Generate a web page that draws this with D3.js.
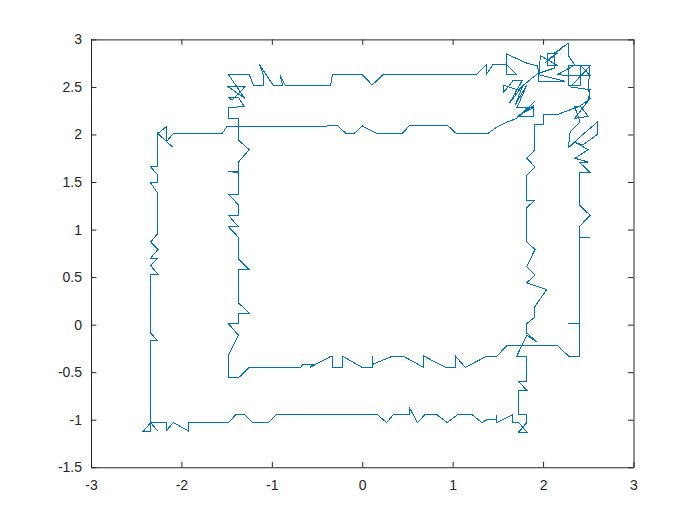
<!DOCTYPE html>
<html>
<head>
<meta charset="utf-8">
<script src="https://cdn.jsdelivr.net/npm/d3@7"></script>
<style>
  body { margin: 0; background: #fff; }
  .tick text { font-family: "Liberation Sans", Arial, sans-serif; font-size: 14px; fill: #262626; }
</style>
</head>
<body>
<script>
// path, in data units
const xs = [2.24, 2.02, 2.15, 2.05, 2.05, 2.15, 1.97, 1.95, 2.08, 2.24, 1.95, 1.94, 1.82, 1.59, 1.59, 1.71, 1.59, 1.45, 1.37, 1.37,
  1.26, 0.23, 0.11, 0.00, -0.33, -0.35, -0.85, -0.91, -0.88, -0.98, -1.14, -1.09, -1.09, -1.20, -1.25, -1.48, -1.30, -1.48, -1.30, -1.44,
  -1.48, -1.37, -1.30, -1.37, -1.48, -1.48, -1.37, -1.37, -1.25, -1.37, -1.37, -1.48, -1.37, -1.37, -1.48, -1.37, -1.37, -1.48, -1.37, -1.48,
  -1.37, -1.37, -1.25, -1.37, -1.37, -1.25, -1.37, -1.37, -1.48, -1.37, -1.48, -1.48, -1.37, -1.25, -0.68, -0.66, -0.54, -0.58, -0.36, -0.33,
  -0.33, -0.22, -0.22, 0.00, 0.11, 0.11, 0.11, 0.34, 0.45, 0.68, 0.68, 0.92, 1.03, 1.03, 1.14, 1.38, 1.49, 1.60, 2.16, 2.28,
  2.40, 2.40, 2.28, 2.40, 2.40, 2.52, 2.40, 2.40, 2.52, 2.40, 2.40, 2.52, 2.40, 2.50, 2.35, 2.50, 2.35, 2.44, 2.60, 2.60,
  2.44, 2.28, 2.30, 2.41, 2.35, 2.41, 2.50, 2.35, 2.52, 2.50, 2.52, 2.28, 2.28, 2.41, 2.41, 2.52, 2.28, 2.16, 2.35, 2.28,
  2.28, 2.13, 2.13, 1.94, 1.72, 1.56, 1.56, 1.63, 1.67, 1.77, 1.63, 1.78, 1.69, 1.82, 1.71, 1.89, 1.71, 1.89, 1.89, 1.78,
  1.91, 1.71, 1.60, 1.49, 1.39, 1.04, 0.95, 0.52, 0.44, 0.16, 0.00, -0.09, -0.18, -0.27, -1.50, -1.55, -2.09, -2.17, -2.17, -2.26,
  -2.10, -2.26, -2.26, -2.34, -2.26, -2.26, -2.34, -2.26, -2.26, -2.34, -2.26, -2.34, -2.26, -2.34, -2.26, -2.34, -2.34, -2.26, -2.34, -2.34,
  -2.42, -2.34, -2.26, -2.34, -2.17, -2.17, -2.09, -1.92, -1.92, -1.48, -1.40, -1.30, -1.21, -1.04, -0.95, 0.17, 0.27, 0.34, 0.52, 0.52,
  0.61, 0.69, 0.83, 0.94, 1.05, 1.22, 1.32, 1.38, 1.49, 1.49, 1.49, 1.66, 1.66, 1.73, 1.82, 1.73, 1.82, 1.82, 1.73, 1.73,
  1.82, 1.73, 1.82, 1.82, 1.71, 1.82, 1.93, 1.82, 1.82, 1.91, 1.91, 2.04, 1.91, 1.82, 1.91, 1.82, 1.91, 1.82, 1.82, 1.91,
  1.82, 1.82, 1.91, 1.82, 1.91, 1.91, 2.00, 2.00, 2.16, 2.30, 2.39, 2.50, 2.52, 2.30, 2.52];
const ys = [2.94, 2.75, 2.85, 2.85, 2.73, 2.73, 2.83, 2.56, 2.56, 2.56, 2.63, 2.72, 2.75, 2.85, 2.63, 2.63, 2.74, 2.74, 2.63, 2.73,
  2.63, 2.63, 2.52, 2.63, 2.63, 2.51, 2.51, 2.63, 2.51, 2.51, 2.74, 2.62, 2.51, 2.51, 2.63, 2.63, 2.38, 2.50, 2.50, 2.36,
  2.39, 2.39, 2.29, 2.29, 2.28, 2.17, 2.17, 1.94, 1.84, 1.71, 1.61, 1.61, 1.60, 1.37, 1.37, 1.26, 1.15, 1.15, 1.03, 1.03,
  0.92, 0.69, 0.58, 0.58, 0.23, 0.12, 0.12, 0.01, 0.01, -0.11, -0.32, -0.56, -0.56, -0.45, -0.45, -0.42, -0.42, -0.45, -0.34, -0.34,
  -0.45, -0.45, -0.33, -0.45, -0.45, -0.33, -0.42, -0.33, -0.33, -0.45, -0.33, -0.45, -0.45, -0.33, -0.45, -0.33, -0.33, -0.22, -0.22, -0.33,
  -0.33, 0.01, 0.01, 0.01, 0.92, 0.92, 0.92, 1.03, 1.15, 1.26, 1.60, 1.60, 1.71, 1.71, 1.75, 1.84, 1.92, 1.89, 2.00, 2.13,
  2.00, 1.86, 2.03, 2.13, 2.29, 2.30, 2.19, 2.17, 2.38, 2.49, 2.73, 2.73, 2.51, 2.51, 2.73, 2.62, 2.62, 2.63, 2.73, 2.83,
  2.96, 2.86, 2.70, 2.64, 2.47, 2.52, 2.44, 2.52, 2.57, 2.57, 2.33, 2.52, 2.31, 2.52, 2.28, 2.28, 2.19, 2.19, 2.30, 2.23,
  2.35, 2.17, 2.13, 2.08, 2.01, 2.01, 2.09, 2.09, 2.01, 2.01, 2.09, 2.01, 2.01, 2.09, 2.08, 2.01, 2.01, 1.92, 2.08, 2.01,
  1.87, 2.01, 1.66, 1.66, 1.57, 1.49, 1.49, 1.38, 0.96, 0.87, 0.79, 0.70, 0.70, 0.62, 0.53, 0.53, -0.09, -0.17, -0.17, -1.12,
  -1.12, -1.03, -1.12, -1.03, -1.03, -1.12, -1.03, -1.12, -1.03, -1.03, -0.95, -0.95, -1.03, -1.03, -0.95, -0.95, -1.03, -0.95, -0.95, -0.87,
  -1.03, -0.95, -0.95, -1.03, -0.95, -0.95, -1.03, -1.00, -1.00, -0.95, -1.03, -0.95, -1.03, -1.03, -1.13, -1.13, -1.03, -0.95, -0.95, -0.69,
  -0.69, -0.60, -0.60, -0.33, -0.33, -0.11, -0.18, -0.09, 0.01, 0.08, 0.19, 0.37, 0.41, 0.44, 0.52, 0.61, 0.79, 0.87, 1.23, 1.31,
  1.31, 1.57, 1.66, 1.75, 1.84, 2.10, 2.10, 2.21, 2.21, 2.26, 2.29, 2.36, 2.47, 2.50, 2.72];

const xTicks = [-3, -2, -1, 0, 1, 2, 3];
const yTicks = [-1.5, -1, -0.5, 0, 0.5, 1, 1.5, 2, 2.5, 3];

const W = 700, H = 525;
const margin = { left: 91, right: 66.5, top: 39.4, bottom: 57.75 };
const innerW = W - margin.left - margin.right;
const innerH = H - margin.top - margin.bottom;

const svg = d3.select('body').append('svg')
    .attr('width', W)
    .attr('height', H);

const g = svg.append('g')
    .attr('transform', `translate(${margin.left},${margin.top})`);

const x = d3.scaleLinear().domain([-3, 3]).range([0, innerW]);
const y = d3.scaleLinear().domain([-1.5, 3]).range([innerH, 0]);

const pts = xs.map((v, i) => [v, ys[i]]);

// the trace
g.append('path')
    .datum(pts)
    .attr('fill', 'none')
    .attr('stroke', '#0072BD')
    .attr('stroke-width', 1)
    .attr('stroke-linejoin', 'miter')
    .attr('shape-rendering', 'crispEdges')
    .attr('d', d3.line().x(d => x(d[0])).y(d => y(d[1])));

// axes, ticks pointing in like matlab
const tickLen = 5.4;
const fmt = d => String(d);   // plain hyphen minus
const styleAxis = sel => {
    sel.select('.domain').attr('stroke', '#262626');
    sel.selectAll('.tick line').attr('stroke', '#262626');
};

g.append('g')
    .attr('transform', `translate(0,${innerH})`)
    .call(d3.axisBottom(x).tickValues(xTicks).tickSize(-tickLen).tickSizeOuter(0).tickPadding(13).tickFormat(fmt))
    .call(styleAxis);

g.append('g')
    .call(d3.axisTop(x).tickValues(xTicks).tickSize(-tickLen).tickSizeOuter(0).tickFormat(''))
    .call(styleAxis);

g.append('g')
    .call(d3.axisLeft(y).tickValues(yTicks).tickSize(-tickLen).tickSizeOuter(0).tickPadding(9).tickFormat(fmt))
    .call(styleAxis);

g.append('g')
    .attr('transform', `translate(${innerW},0)`)
    .call(d3.axisRight(y).tickValues(yTicks).tickSize(-tickLen).tickSizeOuter(0).tickFormat(''))
    .call(styleAxis);

g.selectAll('.tick text').attr('fill', '#262626');
</script>
</body>
</html>
